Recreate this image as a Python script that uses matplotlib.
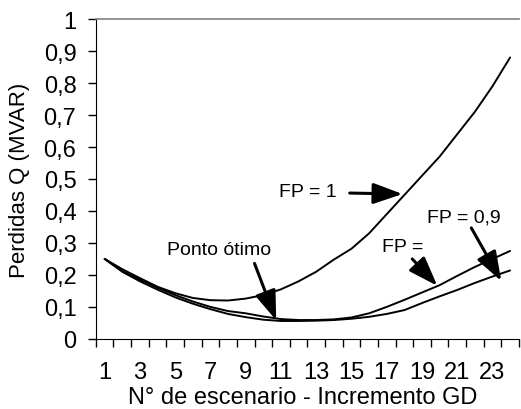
import matplotlib
matplotlib.use("Agg")
import matplotlib.pyplot as plt
import numpy as np

plt.rcParams['font.family'] = ['Liberation Sans', 'DejaVu Sans']

scenarios = list(range(1, 25))
fp_1 = [0.25, 0.218, 0.19, 0.163, 0.143, 0.128, 0.121, 0.12, 0.126, 0.137,
        0.155, 0.18, 0.21, 0.248, 0.282, 0.33, 0.39, 0.45, 0.51, 0.57,
        0.64, 0.71, 0.79, 0.88]
fp_mid = [0.25, 0.212, 0.185, 0.16, 0.137, 0.117, 0.1, 0.087, 0.08, 0.07,
          0.062, 0.059, 0.059, 0.061, 0.067, 0.08, 0.1, 0.122, 0.145, 0.168,
          0.197, 0.225, 0.25, 0.275]
fp_09 = [0.25, 0.21, 0.18, 0.154, 0.13, 0.11, 0.093, 0.078, 0.068, 0.06,
         0.056, 0.056, 0.057, 0.059, 0.063, 0.069, 0.078, 0.09, 0.112, 0.133,
         0.153, 0.175, 0.195, 0.214]
yticks = [0, 0.1, 0.2, 0.3, 0.4, 0.5, 0.6, 0.7, 0.8, 0.9, 1.0]
ytick_labels = ['0', '0,1', '0,2', '0,3', '0,4', '0,5', '0,6', '0,7', '0,8', '0,9', '1']
xtick_labels = [str(v) for v in range(1, 25, 2)]

fig = plt.figure(figsize=(5.21, 4.10), dpi=100)
ax = fig.add_axes([0.184, 0.171, 0.812, 0.780])

for s in (fp_1, fp_mid, fp_09):
    ax.plot(scenarios, s, color='black', lw=1.4, solid_capstyle='round')

ax.set_xlim(0.5, 24.5)
ax.set_ylim(0, 1)
ax.set_yticks(yticks)
ax.set_yticklabels(ytick_labels, fontsize=17)
ax.set_xticks(np.arange(0.5, 25, 1), minor=False)
ax.set_xticklabels([])
ax.set_xticks(list(range(1, 25, 2)), minor=True)
ax.set_xticklabels(xtick_labels, minor=True, fontsize=17)
ax.tick_params(axis='x', which='minor', length=0, pad=16)
ax.tick_params(axis='x', which='major', length=6, width=1, color='black', direction='out')
ax.tick_params(axis='y', length=6, width=1, direction='out', pad=8)

ax.spines['top'].set_color('#808080')
ax.spines['top'].set_linewidth(1.2)
ax.spines['right'].set_visible(False)
ax.spines['left'].set_color('black')
ax.spines['bottom'].set_color('black')

ax.set_ylabel('Perdidas Q (MVAR)', fontsize=16)
ax.yaxis.set_label_coords(-0.18, 0.5)
ax.yaxis.label.set_va('center')
ax.set_xlabel('N° de escenario - Incremento GD', fontsize=17)
ax.xaxis.set_label_coords(0.49, -0.181)
ax.xaxis.label.set_va('center')

arrow_kw = dict(arrowstyle='-|>,head_length=0.9,head_width=0.32', lw=2.2,
                color='black', shrinkA=0, shrinkB=0, mutation_scale=20)

ax.text(12.5, 0.46, 'FP = 1', fontsize=14, ha='center', va='center')
ax.annotate('', xy=(17.9, 0.453), xytext=(14.9, 0.456), arrowprops=arrow_kw)

ax.text(7.5, 0.281, 'Ponto ótimo', fontsize=14, ha='center', va='center')
ax.annotate('', xy=(10.73, 0.058), xytext=(9.5, 0.236), arrowprops=arrow_kw)

ax.text(17.9, 0.2875, 'FP =', fontsize=14, ha='center', va='center')
ax.annotate('', xy=(19.87, 0.166), xytext=(18.45, 0.25), arrowprops=arrow_kw)

ax.text(21.4, 0.381, 'FP = 0,9', fontsize=14, ha='center', va='center')
ax.annotate('', xy=(23.5, 0.181), xytext=(21.8, 0.347), arrowprops=arrow_kw)

fig.savefig('out.png', dpi=100)
